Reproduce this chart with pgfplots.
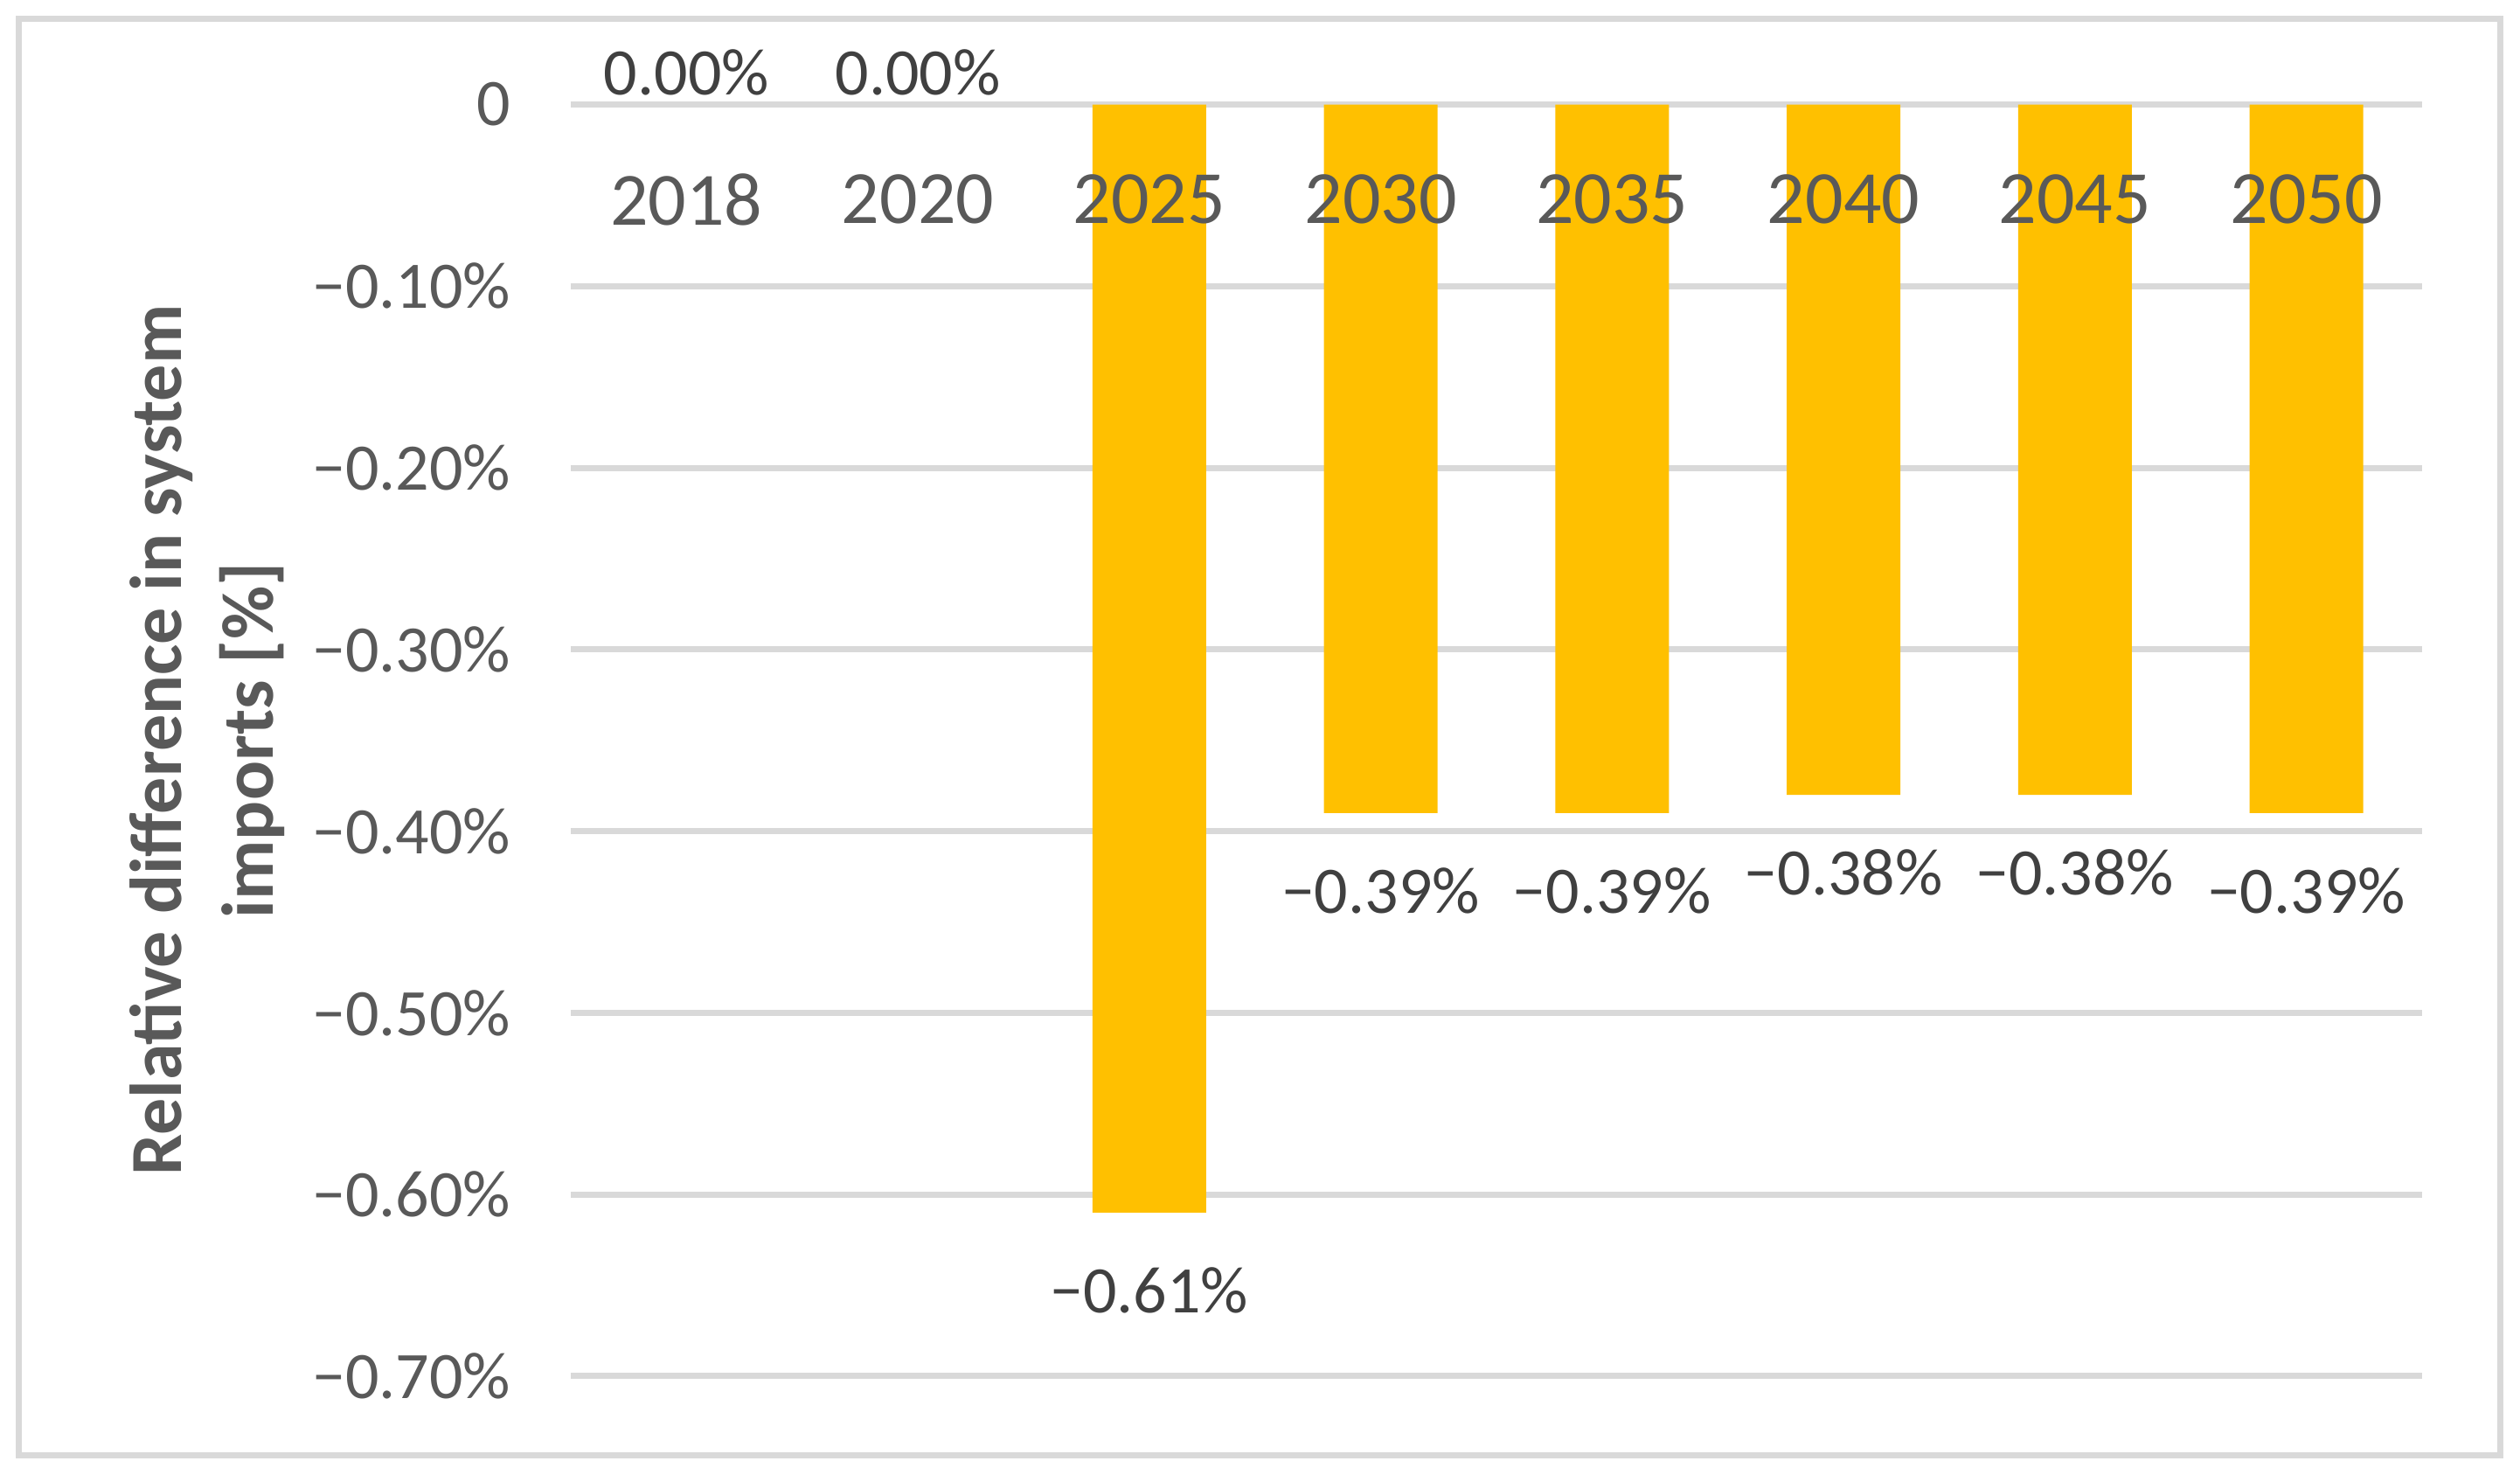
\documentclass[border=0pt]{standalone}
\usepackage{fontspec}
\setmainfont{Carlito}
\usepackage{pgfplots}
\pgfplotsset{compat=1.18}
\definecolor{barc}{HTML}{FFC000}
\definecolor{gridc}{HTML}{D9D9D9}
\definecolor{txt}{HTML}{595959}
\definecolor{lbl}{HTML}{404040}
\pgfplotsset{
  common/.style={
    scale only axis, width=529.5pt, height=363.6pt,
    xmin=-0.5, xmax=7.5, ymin=-0.7, ymax=0,
    clip=false,
    axis line style={draw=none},
    major tick length=0pt,
    xtick={0,1,2,3,4,5,6,7},
    ytick={-0.7,-0.6,-0.5,-0.4,-0.3,-0.2,-0.1,0},
  }
}
\begin{document}
\begin{tikzpicture}
\fill[white] (-163.25pt,-28.25pt) rectangle (557.5pt,393.5pt);
\draw[gridc, line width=1.75pt] (-157.75pt,-22.75pt) rectangle (551.75pt,388pt);
% grid only (drawn below the bars)
\begin{axis}[common,
  xticklabels={}, yticklabels={},
  ymajorgrids, grid style={gridc, line width=1.75pt},
]
\end{axis}
% bars, labels and tick labels on top
\begin{axis}[common,
  axis on top,
  xticklabels={2018,2020,2025,2030,2035,2040,2045,2050},
  xticklabel pos=upper,
  xticklabel style={font=\fontsize{21.5}{25}\selectfont, text=txt, anchor=center, inner sep=0pt, yshift=-27.2pt},
  yticklabels={−0.70\%,−0.60\%,−0.50\%,−0.40\%,−0.30\%,−0.20\%,−0.10\%,0},
  yticklabel style={font=\fontsize{19}{23}\selectfont, text=txt, anchor=east, inner sep=0pt, xshift=-17pt},
  ylabel={Relative difference in system\\imports [\%]},
  ylabel style={at={(rel axis cs:-0.1966,0.5)}, anchor=center, align=center, font=\bfseries\fontsize{21}{26.25}\selectfont, text=txt},
]
\addplot[ybar, bar width=32.5pt, bar shift=0pt, fill=barc, draw=none,
  point meta=explicit symbolic, nodes near coords,
  every node near coord/.append style={anchor=north, inner sep=0pt, yshift=-15.5pt, font=\fontsize{19}{23}\selectfont, text=lbl}]
  coordinates {(2,-0.61)[−0.61\%] (3,-0.39)[−0.39\%] (4,-0.39)[−0.39\%] (5,-0.38)[−0.38\%] (6,-0.38)[−0.38\%] (7,-0.39)[−0.39\%]};
\addplot[draw=none, mark=none,
  point meta=explicit symbolic, nodes near coords,
  every node near coord/.append style={anchor=south, inner sep=0pt, yshift=2.5pt, font=\fontsize{19}{23}\selectfont, text=lbl}]
  coordinates {(0,0)[0.00\%] (1,0)[0.00\%]};
\end{axis}
\end{tikzpicture}
\end{document}
